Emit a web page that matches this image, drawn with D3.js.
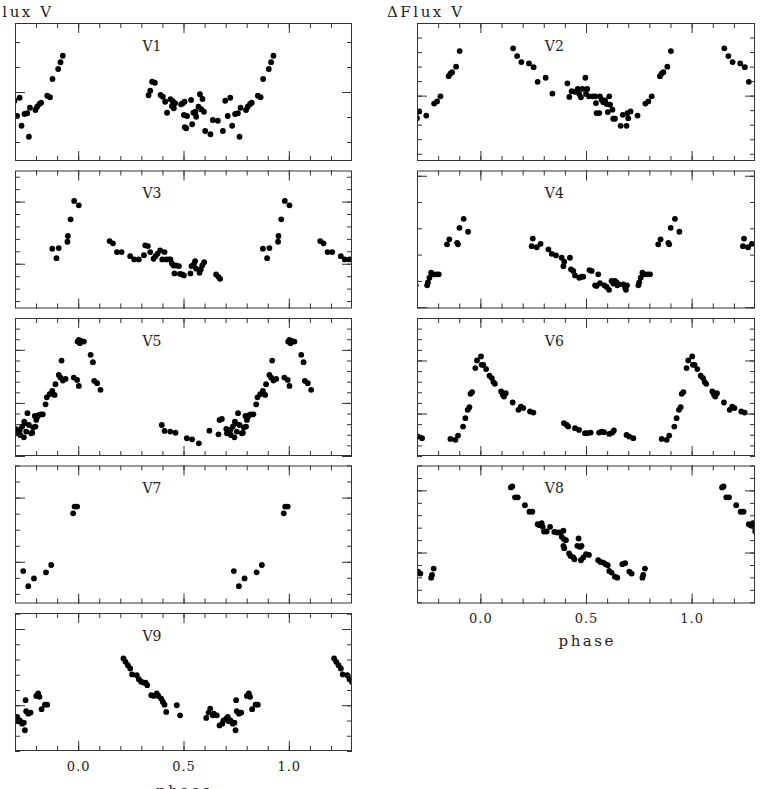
<!DOCTYPE html>
<html><head><meta charset="utf-8">
<script src="https://cdn.jsdelivr.net/npm/d3@7"></script>
<style>
body{margin:0;background:#fff;}
svg{display:block;}
text{font-family:"DejaVu Serif",serif;fill:#222;}
</style>
</head><body>
<svg id="chart" width="762" height="789"></svg>
<script>
// ---------------- DATA ----------------
const starNames = ["V1","V2","V3","V4","V5","V6","V7","V8","V9"];
const yTitle = "\u0394Flux V";
const xTitle = "phase";
const phaseMinorTicks = [-0.2,-0.1,0.0,0.1,0.2,0.3,0.4,0.5,0.6,0.7,0.8,0.9,1.0,1.1,1.2];
const phaseMajorTicks = [0.0,0.5,1.0];
const phaseTickLabels = ["0.0","0.5","1.0"];
const phaseDomain = [-0.3, 1.3];

// y ranges of each panel (unlabelled flux axes) and tick steps
const yLow  = [-0.276,-0.45,-0.36,-0.005,-0.5,-0.4,-0.13,-0.41,-0.3];
const yHigh = [ 0.276, 0.5 , 0.75, 0.52 , 0.8, 0.9, 0.3 , 0.70, 0.605];
const yMinorStep = [0.1,0.1,0.1,0.1,0.1,0.1,0.05,0.1,0.1];
const yMajorStep = [0.5,0.5,0.5,0.5,0.5,0.5,0.2,0.5,0.5];

// [phase, dFlux]  (phase folded to 0..1)
const v1 = [[0.334,-0.013],[0.342,0.005],[0.351,0.041],[0.364,0.037],[0.391,-0.012],[0.402,-0.019],[0.413,-0.039],[0.422,-0.083],[0.438,-0.029],[0.445,-0.056],[0.449,-0.036],[0.454,-0.065],[0.460,-0.045],[0.489,-0.049],[0.497,-0.045],[0.505,-0.039],[0.502,-0.092],[0.506,-0.141],[0.513,-0.145],[0.517,-0.096],[0.536,-0.032],[0.541,-0.129],[0.547,-0.083],[0.557,-0.079],[0.560,-0.099],[0.571,-0.059],[0.578,-0.009],[0.584,-0.069],[0.590,-0.028],[0.597,-0.079],[0.603,-0.156],[0.628,-0.169],[0.639,-0.112],[0.663,-0.115],[0.687,-0.156],[0.698,-0.035],[0.710,-0.096],[0.722,-0.023],[0.731,-0.135],[0.745,-0.088],[0.758,-0.085],[0.766,-0.179],[0.771,-0.063],[0.797,-0.072],[0.805,-0.059],[0.816,-0.048],[0.824,-0.043],[0.853,-0.015],[0.866,-0.021],[0.878,0.052],[0.905,0.092],[0.916,0.119],[0.927,0.145]];

const v2 = [[0.155,0.326],[0.174,0.272],[0.194,0.231],[0.230,0.222],[0.252,0.196],[0.271,0.095],[0.309,0.123],[0.341,0.014],[0.412,0.085],[0.421,-0.009],[0.432,0.030],[0.448,0.026],[0.461,0.046],[0.468,0.012],[0.476,-0.012],[0.484,0.046],[0.497,0.123],[0.500,0.012],[0.506,0.046],[0.514,-0.005],[0.532,-0.005],[0.544,-0.005],[0.547,-0.051],[0.550,-0.120],[0.563,-0.120],[0.566,-0.005],[0.574,-0.028],[0.582,-0.046],[0.590,-0.033],[0.598,-0.058],[0.603,-0.113],[0.610,-0.005],[0.614,-0.062],[0.625,-0.097],[0.629,-0.159],[0.637,-0.159],[0.664,-0.208],[0.674,-0.132],[0.692,-0.208],[0.696,-0.120],[0.700,-0.155],[0.711,-0.109],[0.744,-0.137],[0.781,-0.055],[0.795,-0.040],[0.811,-0.005],[0.850,0.134],[0.858,0.152],[0.866,0.161],[0.885,0.199],[0.902,0.307]];

const v3 = [[0.149,0.182],[0.165,0.164],[0.184,0.094],[0.206,0.094],[0.247,0.061],[0.266,0.035],[0.288,0.035],[0.312,0.069],[0.318,0.148],[0.331,0.142],[0.342,0.094],[0.358,0.040],[0.367,0.061],[0.377,0.081],[0.389,0.107],[0.399,0.035],[0.410,0.094],[0.418,0.035],[0.430,0.035],[0.438,0.035],[0.445,0.002],[0.453,-0.014],[0.457,-0.078],[0.465,-0.014],[0.478,-0.019],[0.483,-0.081],[0.494,-0.086],[0.502,-0.094],[0.533,-0.078],[0.538,-0.019],[0.549,-0.006],[0.555,0.021],[0.560,-0.040],[0.576,-0.073],[0.582,-0.046],[0.589,-0.014],[0.598,0.013],[0.655,-0.086],[0.666,-0.105],[0.674,-0.121],[0.877,0.121],[0.897,0.045],[0.908,0.126],[0.949,0.177],[0.951,0.223],[0.964,0.357],[0.981,0.505],[0.003,0.470]];

const v4 = [[0.243,0.232],[0.248,0.261],[0.267,0.228],[0.285,0.241],[0.322,0.220],[0.338,0.203],[0.358,0.197],[0.385,0.188],[0.393,0.156],[0.397,0.173],[0.424,0.188],[0.429,0.144],[0.440,0.138],[0.448,0.121],[0.468,0.112],[0.479,0.116],[0.487,0.116],[0.516,0.141],[0.527,0.138],[0.543,0.083],[0.550,0.081],[0.558,0.125],[0.566,0.091],[0.587,0.083],[0.598,0.077],[0.609,0.066],[0.621,0.100],[0.629,0.090],[0.637,0.100],[0.645,0.094],[0.648,0.083],[0.656,0.087],[0.677,0.087],[0.685,0.075],[0.689,0.066],[0.694,0.083],[0.748,0.083],[0.752,0.094],[0.759,0.112],[0.767,0.131],[0.779,0.125],[0.792,0.125],[0.803,0.125],[0.842,0.239],[0.853,0.258],[0.890,0.245],[0.894,0.239],[0.901,0.302],[0.921,0.336],[0.942,0.287]];

const v5 = [[0.397,-0.208],[0.410,-0.264],[0.437,-0.270],[0.462,-0.280],[0.516,-0.333],[0.541,-0.343],[0.573,-0.381],[0.623,-0.261],[0.666,-0.296],[0.671,-0.160],[0.682,-0.151],[0.703,-0.245],[0.706,-0.286],[0.715,-0.270],[0.723,-0.255],[0.725,-0.302],[0.734,-0.223],[0.742,-0.324],[0.744,-0.176],[0.747,-0.192],[0.753,-0.270],[0.759,-0.097],[0.766,-0.208],[0.777,-0.286],[0.782,-0.280],[0.786,-0.230],[0.794,-0.123],[0.797,-0.223],[0.801,-0.160],[0.805,-0.135],[0.813,-0.113],[0.821,-0.107],[0.832,-0.107],[0.845,-0.013],[0.851,0.053],[0.864,0.082],[0.877,0.113],[0.888,0.075],[0.892,0.176],[0.908,0.264],[0.916,0.239],[0.921,0.399],[0.927,0.211],[0.940,0.226],[0.979,0.239],[0.995,0.217],[0.003,0.160],[0.997,0.578],[0.003,0.594],[0.008,0.563],[0.013,0.585],[0.027,0.578],[0.059,0.453],[0.070,0.384],[0.076,0.208],[0.090,0.186],[0.106,0.123]];

const v6 = [[0.003,0.538],[0.006,0.459],[0.014,0.459],[0.027,0.419],[0.043,0.356],[0.054,0.334],[0.062,0.296],[0.069,0.280],[0.098,0.208],[0.106,0.176],[0.112,0.160],[0.120,0.192],[0.153,0.104],[0.180,0.035],[0.192,0.066],[0.203,0.051],[0.235,0.019],[0.251,0.009],[0.396,-0.091],[0.409,-0.107],[0.416,-0.123],[0.448,-0.138],[0.467,-0.154],[0.495,-0.185],[0.506,-0.185],[0.522,-0.179],[0.562,-0.179],[0.574,-0.170],[0.585,-0.176],[0.610,-0.192],[0.625,-0.179],[0.632,-0.160],[0.692,-0.201],[0.705,-0.217],[0.724,-0.232],[0.858,-0.239],[0.882,-0.248],[0.894,-0.208],[0.918,-0.123],[0.929,-0.044],[0.940,0.035],[0.948,0.060],[0.953,0.186],[0.961,0.202],[0.976,0.428],[0.984,0.500]];

const v7 = [[0.739,-0.029],[0.763,-0.076],[0.790,-0.052],[0.847,-0.033],[0.872,-0.010],[0.976,0.151],[0.983,0.172],[0.995,0.172]];

const v8 = [[0.144,0.524],[0.151,0.532],[0.164,0.444],[0.177,0.444],[0.211,0.381],[0.232,0.328],[0.246,0.328],[0.271,0.228],[0.279,0.220],[0.290,0.236],[0.295,0.207],[0.301,0.169],[0.314,0.169],[0.330,0.207],[0.350,0.166],[0.364,0.161],[0.377,0.161],[0.393,0.175],[0.385,0.126],[0.396,0.107],[0.405,0.099],[0.393,0.054],[0.397,0.035],[0.420,-0.008],[0.427,-0.027],[0.440,-0.040],[0.445,-0.054],[0.459,0.054],[0.465,0.113],[0.472,0.045],[0.479,0.054],[0.476,-0.062],[0.487,-0.040],[0.500,-0.014],[0.514,-0.019],[0.558,-0.062],[0.569,-0.076],[0.582,-0.081],[0.593,-0.094],[0.603,-0.102],[0.610,-0.148],[0.621,-0.161],[0.637,-0.194],[0.648,-0.202],[0.672,-0.094],[0.685,-0.086],[0.705,-0.153],[0.716,-0.169],[0.767,-0.202],[0.771,-0.180],[0.779,-0.129]];

const v9 = [[0.215,0.307],[0.225,0.285],[0.236,0.263],[0.247,0.241],[0.256,0.202],[0.278,0.197],[0.288,0.171],[0.299,0.154],[0.310,0.149],[0.320,0.149],[0.328,0.132],[0.347,0.066],[0.358,0.061],[0.373,0.077],[0.381,0.061],[0.394,0.044],[0.402,0.022],[0.410,0.004],[0.418,-0.044],[0.468,0.000],[0.484,-0.066],[0.608,-0.083],[0.619,-0.048],[0.627,-0.022],[0.639,-0.066],[0.644,-0.055],[0.658,-0.066],[0.671,-0.132],[0.684,-0.121],[0.690,-0.099],[0.703,-0.088],[0.710,-0.077],[0.715,-0.105],[0.723,-0.099],[0.734,-0.121],[0.742,-0.114],[0.747,-0.164],[0.753,-0.039],[0.750,0.033],[0.763,-0.055],[0.774,-0.048],[0.801,0.061],[0.810,0.077],[0.816,0.055],[0.826,-0.026],[0.842,0.004],[0.853,0.004]];

const allStars = [v1,v2,v3,v4,v5,v6,v7,v8,v9];

// ---------------- LAYOUT ----------------
const colX = [[15,352],[417,755]];
const firstTop = 23, rowStep = 147.5, panelH = 138;
const dotR = 2.9;
const ink = "#333";

const svg = d3.select("#chart");

function stepValues(lo, hi, step){
  const a = Math.ceil(lo/step - 1e-9), b = Math.floor(hi/step + 1e-9);
  return d3.range(a, b+1).map(k => +(k*step).toFixed(5));
}

starNames.forEach((name, i) => {
  const col = i % 2, row = Math.floor(i/2);
  const [xl, xr] = colX[col];
  const top = firstTop + row*rowStep, bottom = top + panelH;
  const x = d3.scaleLinear().domain(phaseDomain).range([xl, xr]);
  const y = d3.scaleLinear().domain([yLow[i], yHigh[i]]).range([bottom, top]);

  const g = svg.append("g");
  const clipId = "clip" + i;
  svg.append("clipPath").attr("id", clipId)
    .append("rect").attr("x", xl).attr("y", top).attr("width", xr-xl).attr("height", panelH);

  // points, folded & repeated at phase-1 and phase+1
  const pts = [];
  allStars[i].forEach(([p, f]) => {
    [-1, 0, 1].forEach(k => {
      const ph = p + k;
      if (ph >= phaseDomain[0]-0.02 && ph <= phaseDomain[1]+0.02) pts.push([ph, f]);
    });
  });
  g.append("g").attr("clip-path", `url(#${clipId})`)
    .selectAll("circle").data(pts).join("circle")
    .attr("cx", d => x(d[0])).attr("cy", d => y(d[1]))
    .attr("r", dotR).attr("fill", "#000");

  // axes: inward ticks on four sides
  const yMinor = stepValues(yLow[i], yHigh[i], yMinorStep[i]);
  const yMajor = stepValues(yLow[i], yHigh[i], yMajorStep[i]);
  const addAxis = (axis, tx, ty) => {
    const a = g.append("g").attr("transform", `translate(${tx},${ty})`).call(axis);
    a.select(".domain").remove();
    a.selectAll("line").attr("stroke", ink);
    a.selectAll("text").remove();
    return a;
  };
  addAxis(d3.axisBottom(x).tickValues(phaseMinorTicks).tickSize(-5), 0, bottom);
  addAxis(d3.axisBottom(x).tickValues(phaseMajorTicks).tickSize(-10), 0, bottom);
  addAxis(d3.axisTop(x).tickValues(phaseMinorTicks).tickSize(-5), 0, top);
  addAxis(d3.axisTop(x).tickValues(phaseMajorTicks).tickSize(-10), 0, top);
  addAxis(d3.axisLeft(y).tickValues(yMinor).tickSize(-5), xl, 0);
  addAxis(d3.axisLeft(y).tickValues(yMajor).tickSize(-10), xl, 0);
  addAxis(d3.axisRight(y).tickValues(yMinor).tickSize(-5), xr, 0);
  addAxis(d3.axisRight(y).tickValues(yMajor).tickSize(-10), xr, 0);

  // frame
  g.append("rect").attr("x", xl+0.5).attr("y", top+0.5)
    .attr("width", xr-xl-1).attr("height", panelH-1)
    .attr("fill", "none").attr("stroke", ink).attr("stroke-width", 1);

  // star label
  g.append("text").attr("x", x(0.305)).attr("y", top + 27.5)
    .attr("font-size", 14).text(name);

  // bottom row of each column: tick labels and x title
  const isBottom = (col === 0 && row === 4) || (col === 1 && row === 3);
  if (isBottom) {
    const lab = g.append("g").attr("transform", `translate(0,${bottom})`)
      .call(d3.axisBottom(x).tickValues(phaseMajorTicks).tickSize(0)
        .tickFormat((d, k) => phaseTickLabels[k]));
    lab.select(".domain").remove();
    lab.selectAll("text").attr("y", 19.5).attr("dy", null)
      .attr("font-size", 13).attr("font-family", "DejaVu Serif")
      .attr("letter-spacing", 1).attr("fill", "#222");
    g.append("text").attr("x", x(0.5)).attr("y", bottom + (col === 0 ? 45 : 42))
      .attr("text-anchor", "middle").attr("font-size", 15)
      .attr("textLength", 55).attr("lengthAdjust", "spacing")
      .text(xTitle);
  }

  // y title above top row
  if (row === 0) {
    g.append("text").attr("x", col === 0 ? -24 : 387).attr("y", 17)
      .attr("font-size", 15).attr("textLength", 75).attr("lengthAdjust", "spacing")
      .text(yTitle);
  }
});
</script>
</body></html>
